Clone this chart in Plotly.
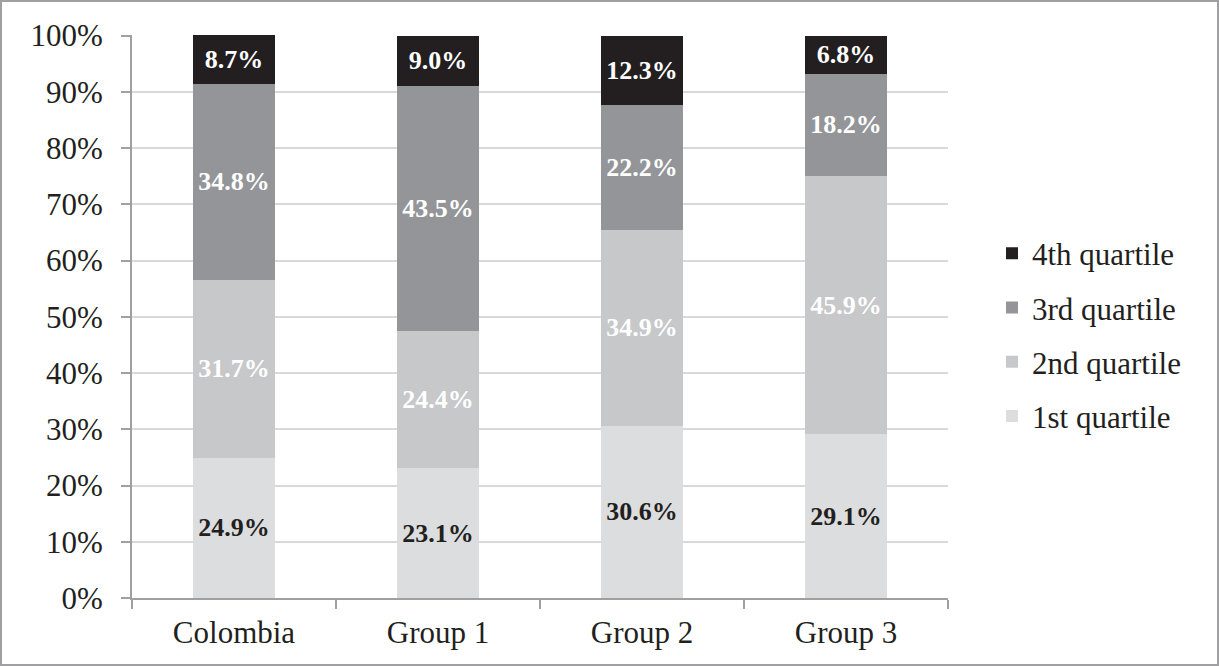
import plotly.graph_objects as go

categories = ["Colombia", "Group 1", "Group 2", "Group 3"]
series_names = ["1st quartile", "2nd quartile", "3rd quartile", "4th quartile"]
q1 = [24.9, 23.1, 30.6, 29.1]
q2 = [31.7, 24.4, 34.9, 45.9]
q3 = [34.8, 43.5, 22.2, 18.2]
q4 = [8.7, 9.0, 12.3, 6.8]
y_ticks = [0, 10, 20, 30, 40, 50, 60, 70, 80, 90, 100]

colors = ["#dcdddf", "#c7c8ca", "#939598", "#231f20"]
text_colors = ["#231f20", "white", "white", "white"]
values = [q1, q2, q3, q4]

FONT = "Liberation Serif, Times New Roman, serif"

fig = go.Figure()
for i, (name, vals) in enumerate(zip(series_names, values)):
    fig.add_trace(go.Bar(
        x=categories, y=vals, name=name,
        marker=dict(color=colors[i], line=dict(width=0)),
        width=0.4,
        text=[f"{v:.1f}%" for v in vals],
        textposition="inside", insidetextanchor="middle",
        textangle=0, constraintext="none",
        textfont=dict(family=FONT, size=26, color=text_colors[i], weight="bold"),
        legendgroup=name, legendrank=10 - i,
        cliponaxis=False,
    ))

L, R, T, B = 132, 271, 35, 68
W, H = 1219, 666
pw, ph = W - L - R, H - T - B

fig.update_layout(
    width=W, height=H,
    margin=dict(l=L, r=R, t=T, b=B),
    barmode="stack",
    plot_bgcolor="white", paper_bgcolor="white",
    font=dict(family=FONT, size=31, color="#231f20"),
    legend=dict(
        x=(992 - L) / pw, xanchor="left",
        y=(H - B - 335) / ph, yanchor="middle",
        traceorder="grouped", tracegroupgap=11,
        font=dict(family=FONT, size=31, color="#231f20"),
    ),
    showlegend=True,
)
fig.update_xaxes(
    showline=True, linecolor="#a0a0a0", linewidth=2,
    ticks="outside", tickson="boundaries", ticklen=9, tickcolor="#a0a0a0", tickwidth=2,
    ticklabelstandoff=6,
    showgrid=False, tickfont=dict(family=FONT, size=31, color="#231f20"),
)
fig.update_yaxes(
    range=[0, 100.1], tickvals=y_ticks, ticktext=[f"{v}%" for v in y_ticks],
    showline=True, linecolor="#a0a0a0", linewidth=2,
    ticks="outside", ticklen=9, tickcolor="#a0a0a0", tickwidth=2,
    ticklabelstandoff=12,
    showgrid=True, gridcolor="#d9d9d9", gridwidth=2,
    zeroline=False,
    tickfont=dict(family=FONT, size=31, color="#231f20"),
)

# outer border around the whole figure
fig.add_shape(
    type="rect", xref="paper", yref="paper",
    x0=(1 - L) / pw, x1=(W - 1 - L) / pw,
    y0=-(B - 1) / ph, y1=(H - 1 - B) / ph,
    line=dict(color="#a0a0a2", width=2), fillcolor="rgba(0,0,0,0)", layer="above",
)

fig.write_html("out.html")
